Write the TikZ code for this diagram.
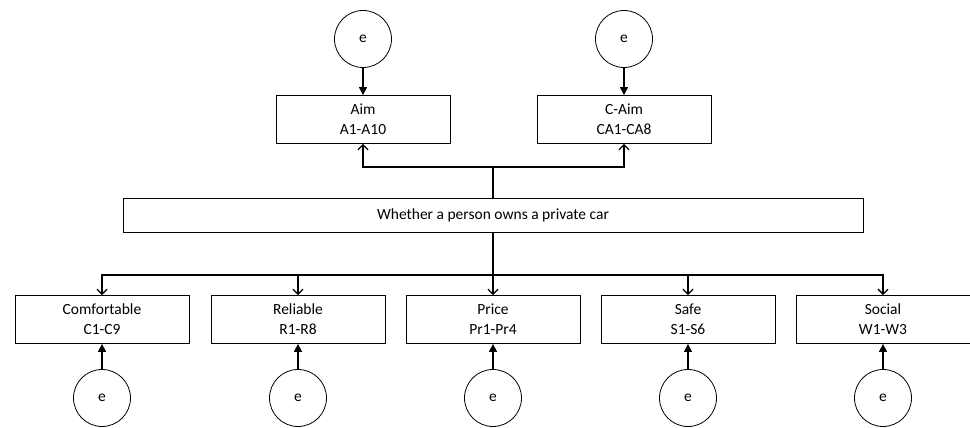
\documentclass[tikz,border=0pt]{standalone}
\usepackage{fontspec}
\setmainfont{Carlito}
\usetikzlibrary{arrows.meta}

\begin{document}
\begin{tikzpicture}[x=1pt,y=1pt,
 box/.style={draw,line width=.8pt,minimum width=174pt,minimum height=48pt,align=center,font=\fontsize{15.5}{20}\selectfont},
 err/.style={draw,circle,line width=.8pt,minimum size=57pt,inner sep=0pt,font=\fontsize{15.5}{20}\selectfont},
 load/.style={line width=1.3pt,-{Triangle[length=8pt,width=8pt]}},
 link/.style={line width=1.3pt,-{Straight Barb[length=5pt,width=10pt]}}]
 \useasboundingbox (0,0) rectangle (970,428);
 \node[box] (aim) at (363,308.5) {Aim\\A1-A10};
 \node[box] (caim) at (624,308.5) {C-Aim\\CA1-CA8};
 \node[box,minimum width=740pt,minimum height=34pt] (own) at (493,213) {Whether a person owns a private car};
 \node[err] (ea) at (363,389) {e};
 \node[err] (ec) at (624,389) {e};
 \draw[load] (ea) -- (aim);
 \draw[load] (ec) -- (caim);
 \coordinate (up) at (493,261);
 \coordinate (down) at (493,153);
 \draw[link] (own) -- (up) -| (aim);
 \draw[link] (up) -| (caim);
 \draw[line width=1.3pt] (own) -- (down);
 \foreach \x/\name/\items [count=\i] in {102/Comfortable/C1-C9,298/Reliable/R1-R8,493/Price/Pr1-Pr4,688/Safe/S1-S6,883/Social/W1-W3}{
  \node[box] (b\i) at (\x,108.5) {\name\\\items};
  \node[err] (e\i) at (\x,30) {e};
  \draw[load] (e\i) -- (b\i);
  \draw[link] (down) -| (b\i);
 }
\end{tikzpicture}
\end{document}
